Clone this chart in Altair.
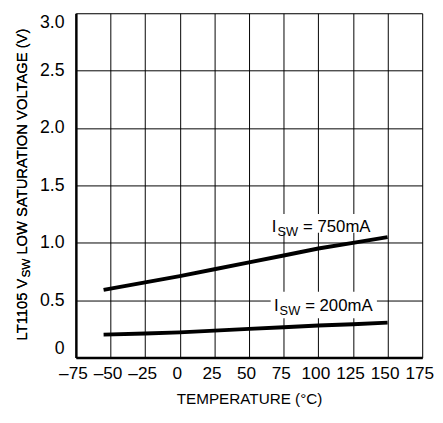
import altair as alt
import pandas as pd

# ---- data ----
temps = [-55, -25, 0, 25, 50, 75, 100, 125, 150]
v_750 = [0.59, 0.655, 0.71, 0.77, 0.83, 0.89, 0.95, 1.00, 1.05]
v_200 = [0.20, 0.21, 0.22, 0.235, 0.25, 0.265, 0.28, 0.29, 0.305]
series_names = ["750mA", "200mA"]

x_ticks = [-75, -50, -25, 0, 25, 50, 75, 100, 125, 150, 175]
y_ticks = [0, 0.5, 1.0, 1.5, 2.0, 2.5, 3.0]

# annotation anchors (data units)
label_text = ["= 750mA", "= 200mA"]
label_x = [78.0, 79.5]
label_y = [1.097, 0.403]
box_x1 = [65.6, 65.6]
box_x2 = [140.2, 142.3]
box_y1 = [1.088, 0.343]
box_y2 = [1.251, 0.574]

FONT = "Liberation Sans, Arial, sans-serif"

rows = []
for t, a, b in zip(temps, v_750, v_200):
    rows.append({"t": t, "v": a, "s": series_names[0]})
    rows.append({"t": t, "v": b, "s": series_names[1]})
df = pd.DataFrame(rows)

lab = pd.DataFrame({"txt": label_text, "x": label_x, "y": label_y,
                    "x1": box_x1, "x2": box_x2, "y1": box_y1, "y2": box_y2})

xs = alt.Scale(domain=[-75, 175], nice=False, zero=False)
ys = alt.Scale(domain=[0, 3], nice=False, zero=False)

x_axis = alt.Axis(values=x_ticks, tickCount=len(x_ticks), grid=True, gridColor="black", gridWidth=1, gridOpacity=1,
                  domain=True, domainColor="black", domainWidth=2.5,
                  ticks=False, tickSize=0, labelFontSize=17.5, labelFont=FONT,
                  labelColor="black", labelPadding=7, labelOverlap=False, labelFlush=False,
                  labelOffset=-3,
                  labelExpr="replace(datum.label, '−', '–')",
                  title="TEMPERATURE (°C)", titleFont=FONT, titleFontSize=15.5,
                  titleFontWeight="normal", titleColor="black", titlePadding=10)
y_axis = alt.Axis(values=y_ticks, tickCount=len(y_ticks), grid=True, gridColor="black", gridWidth=1, gridOpacity=1,
                  domain=True, domainColor="black", domainWidth=2.5,
                  ticks=False, tickSize=0, labelFontSize=18, labelFont=FONT,
                  labelColor="black", labelPadding=12, labelFlush=True, labelOverlap=False,
                  labelExpr="datum.value == 0 ? '0' : format(datum.value, '.1f')", title=None)

lines = alt.Chart(df).mark_line(color="black", strokeWidth=4).encode(
    x=alt.X("t:Q", scale=xs, axis=x_axis),
    y=alt.Y("v:Q", scale=ys, axis=y_axis),
    detail="s:N",
)

boxes = alt.Chart(lab).mark_rect(color="white").encode(
    x="x1:Q", x2="x2:Q", y="y1:Q", y2="y2:Q"
)

base_t = alt.Chart(lab).encode(x="x:Q", y="y:Q")
t_I = base_t.mark_text(font=FONT, fontSize=17, align="right", baseline="alphabetic", dx=-11.5, color="black").encode(text=alt.value("I"))
t_SW = base_t.mark_text(font=FONT, fontSize=13, align="center", baseline="alphabetic", dy=4, color="black").encode(text=alt.value("SW"))
t_rest = base_t.mark_text(font=FONT, fontSize=17, align="left", baseline="alphabetic", dx=15.5, color="black").encode(text="txt:N")

# y-axis title with subscript, built from pieces (pixel positions relative to plot)
ytx = -55
ymid = 259
yt1 = alt.Chart(lab).mark_text(font=FONT, fontSize=15, angle=270, align="right", baseline="middle", color="black").encode(
    x=alt.value(ytx), y=alt.value(ymid + 10.7), text=alt.value("LT1105 V"))
yt2 = alt.Chart(lab).mark_text(font=FONT, fontSize=12, angle=270, align="center", baseline="middle", color="black").encode(
    x=alt.value(ytx + 4), y=alt.value(ymid), text=alt.value("SW"))
yt3 = alt.Chart(lab).mark_text(font=FONT, fontSize=15, angle=270, align="left", baseline="middle", color="black").encode(
    x=alt.value(ytx), y=alt.value(ymid - 13.7), text=alt.value("LOW SATURATION VOLTAGE (V)"))

chart = alt.layer(lines, boxes, t_I, t_SW, t_rest, yt1, yt2, yt3).properties(
    width=352, height=350,
    autosize=alt.AutoSizeParams(type="none"),
    padding={"left": 69, "top": 2, "right": 13, "bottom": 55},
).configure_view(stroke="black", strokeWidth=2.5).configure(background="white")

chart.save("out.html", embed_options={"renderer": "svg", "actions": False})
